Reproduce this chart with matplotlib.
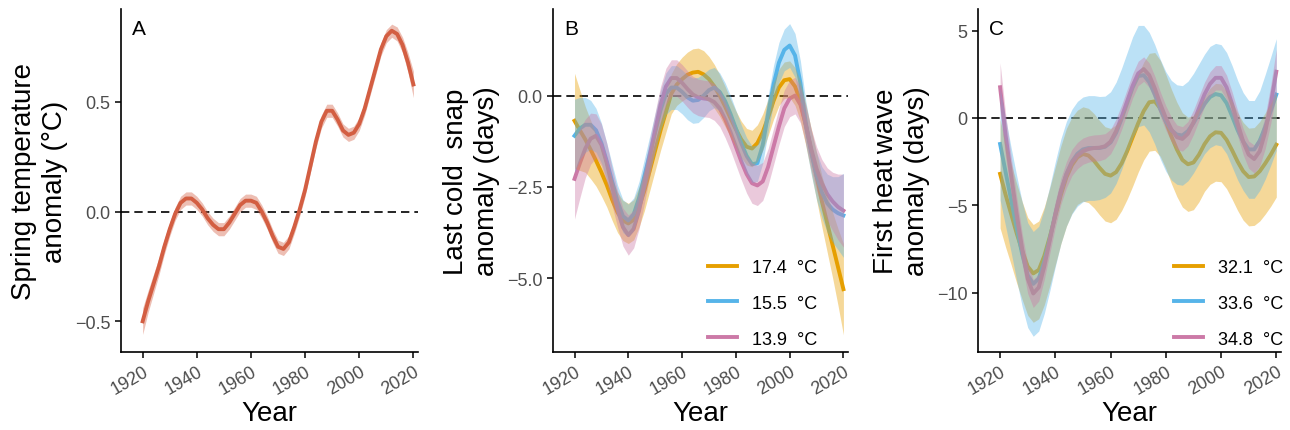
import matplotlib.pyplot as plt
import numpy as np

plt.rcParams['font.family'] = ['Liberation Sans', 'DejaVu Sans']

# values read every 2 years
years = list(range(1920, 2021, 2))

# A: spring temperature anomaly
spring = [-0.50, -0.41, -0.33, -0.25, -0.16, -0.08, -0.01, 0.04, 0.06, 0.06, 0.04, 0.01, -0.03,
          -0.06, -0.08, -0.08, -0.05, -0.01, 0.03, 0.05, 0.05, 0.04, 0.00, -0.05, -0.11, -0.16,
          -0.17, -0.14, -0.07, 0.01, 0.10, 0.21, 0.32, 0.41, 0.46, 0.46, 0.42, 0.37, 0.35, 0.36,
          0.40, 0.47, 0.56, 0.65, 0.74, 0.80, 0.825, 0.81, 0.76, 0.68, 0.58]
spring_se = [0.06, 0.05, 0.045, 0.04, 0.035, 0.032, 0.03, 0.03, 0.03, 0.03,
             0.03, 0.03, 0.03, 0.03, 0.03, 0.03, 0.03, 0.03, 0.03, 0.03,
             0.03, 0.03, 0.03, 0.03, 0.03, 0.03, 0.03, 0.03, 0.03, 0.03,
             0.03, 0.03, 0.03, 0.03, 0.03, 0.03, 0.03, 0.03, 0.03, 0.03,
             0.03, 0.03, 0.03, 0.03, 0.03, 0.03, 0.03, 0.032, 0.035, 0.045, 0.06]

# B: last cold snap anomaly
cold_labels = ['17.4  °C', '15.5  °C', '13.9  °C']
cold_174 = [-0.69, -0.95, -1.20, -1.48, -1.78, -2.10, -2.45, -2.85, -3.20, -3.42, -3.50, -3.40,
            -3.05, -2.60, -2.05, -1.50, -0.95, -0.45, 0.05, 0.30, 0.45, 0.57, 0.63, 0.65, 0.58,
            0.45, 0.25, 0.00, -0.30, -0.62, -0.92, -1.20, -1.40, -1.45, -1.30, -1.00, -0.60,
            -0.15, 0.22, 0.42, 0.45, 0.25, -0.15, -0.80, -1.50, -2.20, -2.90, -3.50, -4.10,
            -4.70, -5.30]
cold_155 = [-1.10, -0.90, -0.80, -0.80, -0.95, -1.30, -1.80, -2.35, -2.90, -3.30, -3.42, -3.25,
            -2.80, -2.20, -1.60, -1.00, -0.40, 0.05, 0.22, 0.22, 0.10, -0.05, -0.14, -0.12, 0.00,
            0.15, 0.22, 0.10, -0.15, -0.50, -0.90, -1.30, -1.65, -1.88, -1.85, -1.35, -0.50,
            0.30, 0.90, 1.25, 1.37, 1.10, 0.35, -0.75, -1.55, -2.20, -2.65, -2.95, -3.12,
            -3.22, -3.28]
cold_139 = [-2.28, -1.85, -1.45, -1.18, -1.10, -1.35, -1.85, -2.50, -3.10, -3.60, -3.82, -3.65,
            -3.15, -2.45, -1.70, -0.95, -0.25, 0.25, 0.48, 0.48, 0.35, 0.18, 0.03, -0.05, -0.08,
            -0.10, -0.18, -0.35, -0.65, -1.00, -1.40, -1.80, -2.15, -2.40, -2.46, -2.35, -1.95,
            -1.40, -0.85, -0.35, -0.08, 0.00, -0.25, -0.80, -1.45, -2.00, -2.40, -2.70, -2.90,
            -3.05, -3.15]
cold_174_se = [1.30, 1.10, 0.90, 0.80, 0.70, 0.65, 0.60, 0.57, 0.55, 0.55,
               0.55, 0.55, 0.55, 0.55, 0.55, 0.55, 0.55, 0.55, 0.55, 0.57,
               0.60, 0.62, 0.65, 0.65, 0.65, 0.62, 0.60, 0.57, 0.55, 0.52,
               0.50, 0.50, 0.50, 0.50, 0.50, 0.50, 0.50, 0.50, 0.50, 0.50,
               0.50, 0.52, 0.55, 0.57, 0.60, 0.65, 0.70, 0.80, 0.90, 1.05, 1.25]
cold_155_se = [1.00, 0.85, 0.75, 0.67, 0.60, 0.55, 0.50, 0.47, 0.45, 0.45,
               0.45, 0.45, 0.45, 0.47, 0.50, 0.52, 0.55, 0.57, 0.60, 0.60,
               0.60, 0.61, 0.62, 0.62, 0.60, 0.57, 0.55, 0.52, 0.50, 0.50,
               0.50, 0.50, 0.50, 0.50, 0.50, 0.50, 0.50, 0.52, 0.55, 0.57,
               0.60, 0.60, 0.60, 0.60, 0.60, 0.65, 0.70, 0.80, 0.90, 1.00, 1.15]
cold_139_se = [1.10, 0.95, 0.80, 0.70, 0.60, 0.57, 0.55, 0.52, 0.50, 0.52,
               0.55, 0.52, 0.50, 0.50, 0.50, 0.50, 0.50, 0.50, 0.50, 0.50,
               0.50, 0.50, 0.50, 0.50, 0.50, 0.50, 0.50, 0.50, 0.50, 0.50,
               0.50, 0.50, 0.52, 0.55, 0.55, 0.52, 0.50, 0.50, 0.50, 0.50,
               0.50, 0.50, 0.50, 0.52, 0.55, 0.60, 0.65, 0.72, 0.80, 0.90, 1.00]

# C: first heat wave anomaly
heat_labels = ['32.1  °C', '33.6  °C', '34.8  °C']
heat_321 = [-3.20, -4.40, -5.50, -6.60, -7.60, -8.50, -8.90, -8.70, -7.90, -6.80, -5.60, -4.40,
            -3.40, -2.70, -2.25, -2.06, -2.15, -2.45, -2.85, -3.20, -3.30, -3.10, -2.60, -1.90,
            -1.10, -0.30, 0.40, 0.90, 0.95, 0.55, -0.20, -1.05, -1.80, -2.40, -2.65, -2.55,
            -2.10, -1.50, -1.05, -0.82, -0.85, -1.25, -1.85, -2.50, -3.05, -3.38, -3.35, -3.05,
            -2.60, -2.10, -1.53]
heat_336 = [-1.49, -3.10, -4.70, -6.30, -7.80, -9.00, -9.50, -9.20, -8.20, -6.90, -5.50, -4.20,
            -3.20, -2.50, -2.05, -1.80, -1.72, -1.72, -1.72, -1.65, -1.40, -0.85, -0.05, 0.85,
            1.75, 2.40, 2.45, 2.05, 1.35, 0.50, -0.20, -0.70, -0.95, -1.00, -0.75, -0.30, 0.25,
            0.80, 1.20, 1.37, 1.30, 0.85, 0.10, -0.70, -1.35, -1.80, -1.80, -1.30, -0.50, 0.40,
            1.34]
heat_348 = [1.76, -1.00, -3.30, -5.50, -7.50, -9.20, -10.05, -9.70, -8.50, -7.00, -5.50, -4.20,
            -3.25, -2.55, -2.15, -1.90, -1.78, -1.72, -1.70, -1.62, -1.35, -0.75, 0.05, 0.95,
            1.85, 2.55, 2.80, 2.45, 1.70, 0.80, 0.00, -0.65, -1.10, -1.20, -0.90, -0.25, 0.55,
            1.35, 1.95, 2.30, 2.30, 1.75, 0.80, -0.30, -1.35, -2.10, -2.35, -1.90, -0.80, 0.80,
            2.65]
heat_321_se = [3.10, 3.00, 2.90, 2.85, 2.80, 2.80, 2.80, 2.80, 2.80, 2.80,
               2.80, 2.80, 2.80, 2.75, 2.70, 2.70, 2.70, 2.70, 2.70, 2.70,
               2.70, 2.70, 2.70, 2.75, 2.80, 2.80, 2.80, 2.80, 2.80, 2.75,
               2.70, 2.70, 2.70, 2.70, 2.70, 2.70, 2.70, 2.70, 2.75, 2.80,
               2.80, 2.80, 2.80, 2.80, 2.80, 2.80, 2.80, 2.85, 2.90, 2.95, 3.00]
heat_336_se = [3.20, 3.10, 3.00, 3.00, 3.00, 3.00, 3.00, 3.00, 3.00, 3.00,
               3.00, 3.00, 3.00, 3.00, 3.00, 3.00, 3.00, 3.00, 2.95, 2.90,
               2.90, 2.90, 2.90, 2.90, 2.90, 2.90, 2.85, 2.85, 2.85, 2.85,
               2.85, 2.85, 2.85, 2.85, 2.85, 2.85, 2.85, 2.85, 2.90, 2.90,
               2.90, 2.90, 2.90, 2.85, 2.80, 2.80, 2.80, 2.85, 3.00, 3.10, 3.20]
heat_348_se = [1.40, 1.25, 1.10, 1.00, 0.90, 0.85, 0.80, 0.78, 0.75, 0.75,
               0.75, 0.75, 0.75, 0.75, 0.75, 0.75, 0.75, 0.75, 0.75, 0.72,
               0.70, 0.70, 0.70, 0.70, 0.70, 0.70, 0.70, 0.70, 0.70, 0.70,
               0.70, 0.70, 0.70, 0.70, 0.70, 0.70, 0.70, 0.70, 0.70, 0.70,
               0.70, 0.70, 0.70, 0.72, 0.75, 0.78, 0.80, 0.85, 0.95, 1.10, 1.30]

red = '#D35E42'
cols = ['#E69F00', '#56B4E9', '#CC79A7']
tick_grey = '#4D4D4D'

fig = plt.figure(figsize=(12.9, 4.31), dpi=100)
W, H = 1290, 431


def make_ax(left, right, letter, ylim, yticks, yticklabels, ylab, labx):
    ax = fig.add_axes([left / W, (H - 353) / H, (right - left) / W, 343 / H])
    ax.set_xlim(1912, 2021.7)
    ax.set_ylim(*ylim)
    ax.set_xticks([1920, 1940, 1960, 1980, 2000, 2020])
    ax.set_yticks(yticks)
    ax.set_yticklabels(yticklabels)
    for s in ['top', 'right']:
        ax.spines[s].set_visible(False)
    for s in ['left', 'bottom']:
        ax.spines[s].set_linewidth(1.2)
    ax.tick_params(length=4, width=1.1, color='black', labelsize=13, labelcolor=tick_grey)
    for lab in ax.get_xticklabels():
        lab.set_rotation(30)
        lab.set_ha('right')
        lab.set_rotation_mode('anchor')
    ax.set_xlabel('Year', fontsize=20, labelpad=2)
    ax.set_ylabel(ylab, fontsize=20, linespacing=1.25)
    ax.yaxis.set_label_coords(labx, 0.5)
    ax.axhline(0, color='black', lw=1.2, ls='--', dashes=(5, 3), zorder=1)
    ax.text(0.037, 0.97, letter, transform=ax.transAxes, fontsize=15, va='top', ha='left')
    return ax


def draw(ax, vals, ses, colours, labels):
    for v, c, lab in zip(vals, colours, labels):
        ax.plot(years, v, color=c, lw=2.8, zorder=2, label=lab, solid_joinstyle='round')
    for v, se, c in zip(vals, ses, colours):
        v = np.array(v)
        se = np.array(se)
        ax.fill_between(years, v - se, v + se, color=c, alpha=0.4, lw=0, zorder=3)


# panel A
ax1 = make_ax(121, 418, 'A', (-0.64, 0.924), [-0.5, 0.0, 0.5], ['\u22120.5', '0.0', '0.5'],
              'Spring temperature\nanomaly (°C)', -0.18)
draw(ax1, [spring], [spring_se], [red], [None])

# panel B
ax2 = make_ax(553, 848, 'B', (-7.02, 2.37), [-5.0, -2.5, 0.0], ['\u22125.0', '\u22122.5', '0.0'],
              'Last cold  snap\nanomaly (days)', -0.18)
draw(ax2, [cold_174, cold_155, cold_139], [cold_174_se, cold_155_se, cold_139_se], cols, cold_labels)
ax2.legend(loc='lower right', bbox_to_anchor=(0.95, -0.035), frameon=False, fontsize=13,
           handlelength=1.6, labelspacing=1.05, handletextpad=0.8)

# panel C
ax3 = make_ax(978, 1281, 'C', (-13.4, 6.24), [-10, -5, 0, 5], ['\u221210', '\u22125', '0', '5'],
              'First heat\u2009wave\nanomaly (days)', -0.16)
draw(ax3, [heat_321, heat_336, heat_348], [heat_321_se, heat_336_se, heat_348_se], cols, heat_labels)
ax3.legend(loc='lower right', bbox_to_anchor=(1.06, -0.035), frameon=False, fontsize=13,
           handlelength=1.6, labelspacing=1.05, handletextpad=0.8)

fig.savefig('out.png', dpi=100)
